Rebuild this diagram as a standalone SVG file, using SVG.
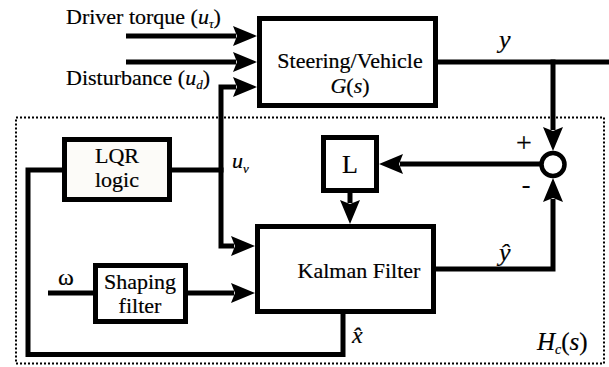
<svg xmlns="http://www.w3.org/2000/svg" width="609" height="367" viewBox="0 0 609 367" font-family="Liberation Serif">
  <style>
    .blk { fill: #ffffff; stroke: #000; stroke-width: 5; }
    .wire { fill: none; stroke: #000; stroke-width: 5; stroke-linejoin: miter; stroke-linecap: butt; }
    .arr { marker-end: url(#ah); }
    text { fill: #000; stroke: #000; stroke-width: 0.2; }
    .t { font-size: 22px; }
    .m { font-style: italic; }
    .c { text-anchor: middle; }
  </style>
  <defs>
    <marker id="ah" markerWidth="26" markerHeight="22" refX="3" refY="11" orient="auto" markerUnits="userSpaceOnUse">
      <path d="M0,1 L24,11 L0,21 L4,11 Z" fill="#000"/>
    </marker>
  </defs>

  <!-- controller boundary H_c(s) -->
  <rect id="controller-boundary" x="16" y="117.5" width="588" height="246" fill="none" stroke="#000" stroke-width="2" stroke-dasharray="2 2"/>

  <!-- connectors -->
  <g id="connectors">
    <path class="wire arr" d="M126,36 H236"/>
    <path class="wire arr" d="M126,62 H236"/>
    <path class="wire arr" d="M221,170 V87 H236"/>
    <path class="wire arr" d="M221,170 V246 H234"/>
    <path class="wire" d="M172,170 H223.5"/>
    <path class="wire" d="M48,293 H94"/>
    <path class="wire arr" d="M187,293 H234"/>
    <path class="wire" d="M343,312 V354.5 H28 V170 H63"/>
    <path class="wire" d="M437,62 H609"/>
    <path class="wire arr" d="M553,59.5 V130"/>
    <path class="wire arr" d="M435,269 H553 V199"/>
    <path class="wire arr" d="M541.5,164 H400"/>
    <path class="wire arr" d="M350,192 V203"/>
  </g>

  <!-- external input labels -->
  <g id="input-labels">
    <text class="t" x="66" y="24">Driver torque (<tspan class="m">u</tspan><tspan class="m" font-size="13" dy="4">τ</tspan><tspan dy="-4">)</tspan></text>
    <text class="t" x="66" y="85">Disturbance (<tspan class="m">u</tspan><tspan class="m" font-size="13" dy="4">d</tspan><tspan dy="-4">)</tspan></text>
  </g>

  <g id="plant">
    <rect class="blk" x="259.5" y="18.5" width="176" height="87"/>
    <text class="t c" x="350" y="68">Steering/Vehicle</text>
    <text class="t c" x="350" y="93"><tspan class="m">G</tspan>(<tspan class="m">s</tspan>)</text>
  </g>

  <g id="lqr">
    <rect class="blk" x="64.5" y="139.5" width="105" height="60" style="fill:#fcfbf8"/>
    <text class="t c" x="117" y="163">LQR</text>
    <text class="t c" x="117" y="187">logic</text>
  </g>

  <g id="gain-l">
    <rect class="blk" x="323.5" y="137.5" width="53" height="53"/>
    <text class="t c" x="350" y="173" style="font-size:26px">L</text>
  </g>

  <g id="summing-junction">
    <circle cx="553" cy="164.5" r="11.5" fill="#fff" stroke="#000" stroke-width="4.5"/>
    <text class="t c" x="524" y="152" style="font-size:28px">+</text>
    <text class="t c" x="526" y="193" style="font-size:26px">-</text>
  </g>

  <g id="kalman">
    <rect class="blk" x="257.5" y="226.5" width="176" height="85"/>
    <text class="t c" x="359" y="278">Kalman Filter</text>
  </g>

  <g id="shaping">
    <rect class="blk" x="95.5" y="265.5" width="90" height="56"/>
    <text class="t c" x="140" y="289">Shaping</text>
    <text class="t c" x="140" y="313">filter</text>
  </g>

  <!-- signal labels -->
  <g id="signal-labels">
    <text class="m" x="499" y="48" font-size="26">y</text>
    <text class="m" x="232" y="168" font-size="22">u<tspan font-size="13" dy="5">v</tspan></text>
    <text class="t c" x="66" y="285" style="font-size:24px">ω</text>
    <text class="m" x="499" y="261" font-size="26">ŷ</text>
    <text class="m" x="352" y="343" font-size="24">x̂</text>
    <text class="m" x="537" y="350" font-size="25">H<tspan font-size="14" dy="4">c</tspan><tspan font-style="normal" dy="-4">(</tspan>s<tspan font-style="normal">)</tspan></text>
  </g>
</svg>
